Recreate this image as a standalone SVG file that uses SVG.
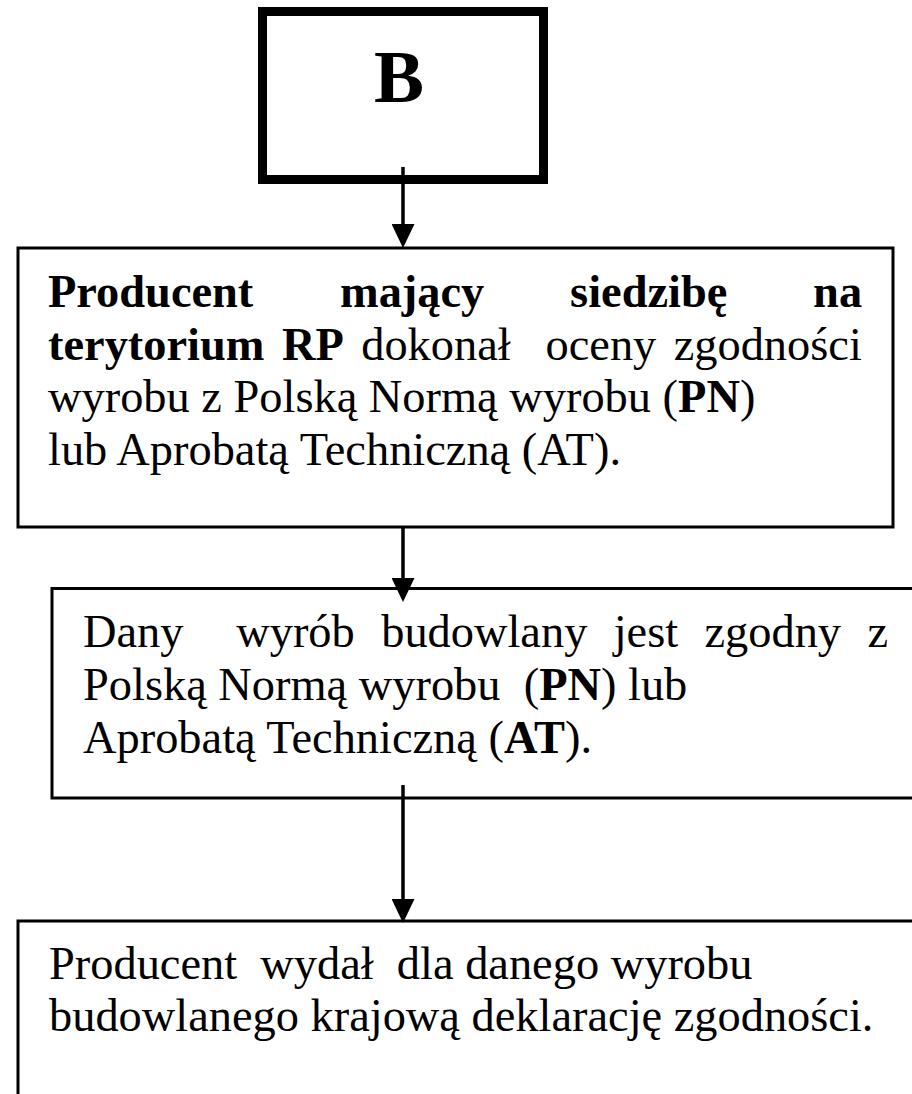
<svg xmlns="http://www.w3.org/2000/svg" width="912" height="1094" viewBox="0 0 912 1094">
<style>
  .box { fill: #fff; stroke: #000; stroke-width: 3; }
  .boxB { fill: #fff; stroke: #000; stroke-width: 9; }
  .t { font-family: "Liberation Serif", "Times New Roman", serif; font-size: 46.4px; fill: #000; }
  .b { font-weight: bold; }
  .conn { stroke: #000; stroke-width: 3.5; fill: none; marker-end: url(#arr); }
</style>
<defs>
  <marker id="arr" markerUnits="userSpaceOnUse" markerWidth="24" markerHeight="23" viewBox="0 0 24 23" refX="0" refY="11.5" orient="auto">
    <path d="M0,0 L24,11.5 L0,23 Z" fill="#000"/>
  </marker>
</defs>
<rect width="912" height="1094" fill="#fff"/>
<g id="nodeB">
  <rect class="boxB" x="262.5" y="11.5" width="281" height="168"/>
  <text class="t b" x="399" y="102" text-anchor="middle" style="font-size:75px">B</text>
</g>
<g id="node1">
  <rect class="box" x="18" y="248" width="875" height="279"/>
  <text class="t b" y="307"><tspan x="48">Producent</tspan><tspan x="340">mający</tspan><tspan x="570.1">siedzibę</tspan><tspan x="813.1">na</tspan></text>
  <text class="t" y="359.5"><tspan class="b" x="48">terytorium</tspan><tspan class="b" x="281.9">RP</tspan><tspan x="361.2">dokonał</tspan><tspan x="545.5">oceny</tspan><tspan x="673.7">zgodności</tspan></text>
  <text class="t" x="48" y="412">wyrobu z Polską Normą wyrobu (<tspan class="b">PN</tspan>)</text>
  <text class="t" x="48" y="464.5">lub Aprobatą Techniczną (AT).</text>
</g>
<g id="node2">
  <rect class="box" x="52" y="588.5" width="900" height="209.5"/>
  <text class="t" y="647"><tspan x="83">Dany</tspan><tspan x="236.2">wyrób</tspan><tspan x="381.2">budowlany</tspan><tspan x="613.7">jest</tspan><tspan x="704.5">zgodny</tspan><tspan x="867.4">z</tspan></text>
  <text class="t" x="83" y="700" xml:space="preserve">Polską Normą wyrobu  (<tspan class="b">PN</tspan>) lub</text>
  <text class="t" x="83" y="753">Aprobatą Techniczną (<tspan class="b">AT</tspan>).</text>
</g>
<g id="node3">
  <rect class="box" x="18" y="921" width="1000" height="300"/>
  <text class="t" x="49" y="979" xml:space="preserve">Producent  wydał  dla danego wyrobu</text>
  <text class="t" x="49" y="1031">budowlanego krajową deklarację zgodności.</text>
</g>
<g id="connectors">
  <line class="conn" x1="403" y1="167" x2="403" y2="224"/>
  <line class="conn" x1="403" y1="527" x2="403" y2="578"/>
  <line class="conn" x1="403" y1="785" x2="403" y2="899"/>
</g>
</svg>
